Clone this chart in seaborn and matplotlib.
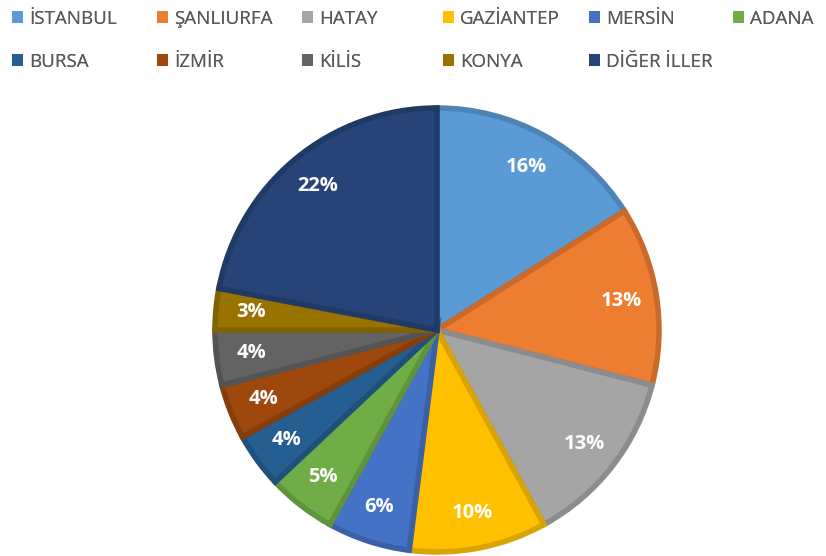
import numpy as np
import pandas as pd
import matplotlib
matplotlib.use("Agg")
import matplotlib.pyplot as plt
import matplotlib.colors as mcolors
import seaborn as sns

# datos del grafico
iller   = ['İSTANBUL', 'ŞANLIURFA', 'HATAY', 'GAZİANTEP', 'MERSİN', 'ADANA',
           'BURSA', 'İZMİR', 'KİLİS', 'KONYA', 'DİĞER İLLER']
oranlar = [16, 13, 13, 10, 6, 5, 4, 4, 4, 3, 22]
renkler = ['#5B9BD5', '#ED7D31', '#A5A5A5', '#FFC000', '#4472C4', '#70AD47',
           '#255E91', '#9E480E', '#636363', '#997300', '#264478']

sns.set_theme(style='white')
plt.rcParams['font.family'] = ['Open Sans', 'DejaVu Sans']

def koyu(c, f=0.85):
    '''Dilim kenarlari icin biraz daha koyu renk'''
    r, g, b = mcolors.to_rgb(c)
    return (r*f, g*f, b*f)

df = pd.DataFrame({'il': iller, 'oran': oranlar})

fig = plt.figure(figsize=(8.26, 5.56), dpi=100)
ax = fig.add_axes([0.2603, 0.0072, 0.5375, 0.7986])

wedges, texts, autotexts = ax.pie(df['oran'], colors=renkler, startangle=90, counterclock=False,
                                  autopct='%1.0f%%', pctdistance=0.84,
                                  wedgeprops=dict(edgecolor='none', linewidth=0))
for w, c in zip(wedges, renkler):
    w.set_edgecolor(koyu(c))
    w.set_linewidth(4)
    w.set_clip_on(False)
for t in autotexts:
    t.set_color('white'); t.set_fontweight('bold'); t.set_fontsize(14.5)
ax.set_xlim(-1, 1); ax.set_ylim(-1, 1)

# leyenda en columnas (como en Excel)
col_px = [12, 157, 302, 443, 589, 733]
for j, px in enumerate(col_px):
    idx = [i for i in (j, j + 6) if i < len(iller)]
    leg = fig.legend([wedges[i] for i in idx], [iller[i] for i in idx],
                     loc='upper left', bbox_to_anchor=(px / 826, 0.982), ncol=1, frameon=False,
                     fontsize=13.5, handlelength=0.6, handleheight=0.6, handletextpad=0.32,
                     labelspacing=1.32, borderpad=0, borderaxespad=0, labelcolor='#595959')
    for h in leg.legend_handles:
        h.set_linewidth(0)
    fig.add_artist(leg)

fig.savefig('out.png', dpi=100)
